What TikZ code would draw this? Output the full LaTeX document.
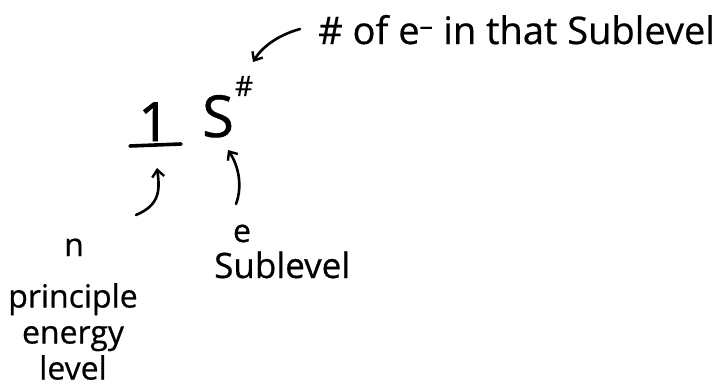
\documentclass[tikz,border=0pt]{standalone}
\usepackage{fontspec}
\setmainfont[FakeBold=0.6]{Open Sans}
\newfontfamily\heavyfont[FakeBold=1.6]{Open Sans}
\usetikzlibrary{arrows.meta}
\tikzset{
  ink/.style={line width=2.6pt, line cap=round, line join=round, black},
  hand/.style={font=\fontsize{#1}{#1}\selectfont, inner sep=0pt, text=black},
  pointer/.style={ink, -{Straight Barb[length=7pt,width=12pt,line width=2.4pt]}},
}
\begin{document}
\begin{tikzpicture}[x=1pt,y=-1pt]
\useasboundingbox (0,0) rectangle (722,391);
% main symbols
\node[hand=54, anchor=base, font=\heavyfont\fontsize{54}{54}\selectfont] (one) at (154,141) {1};
\draw[ink, line width=3.6pt] (130,146) -- (181,144);
\node[hand=58, anchor=base] (s) at (218,137) {S};
\node[hand=28] (hash) at (244,86) {\#};
% top label
\node[hand=38, anchor=base west] (top) at (318,44) {\# of e\textsuperscript{--} in that Sublevel};
\coordinate (topstart) at (300,29);
\coordinate (hashtip) at (253,62);
\draw[pointer] (topstart) .. controls (282,34) and (264,44) .. (hashtip);
% arrow to 1
\coordinate (nstart) at (136,215);
\coordinate (onetip) at (157,168);
\draw[pointer] (nstart) .. controls (160,205) and (160,190) .. (onetip);
% arrow to s
\coordinate (lstart) at (236,204);
\coordinate (stip) at (228,150);
\draw[pointer] (lstart) .. controls (243,185) and (238,165) .. (stip);
% bottom labels
\node[hand=32, anchor=base] (n) at (74,256) {n};
\node[hand=32, anchor=base] (e) at (242,242) {e};
\node[hand=35, anchor=base west] (sub) at (214,278) {Sublevel};
\node[font=\fontsize{32}{36}\selectfont, inner sep=0pt, align=center, anchor=north] (pel) at (73,283) {principle\\energy\\level};
\end{tikzpicture}
\end{document}
